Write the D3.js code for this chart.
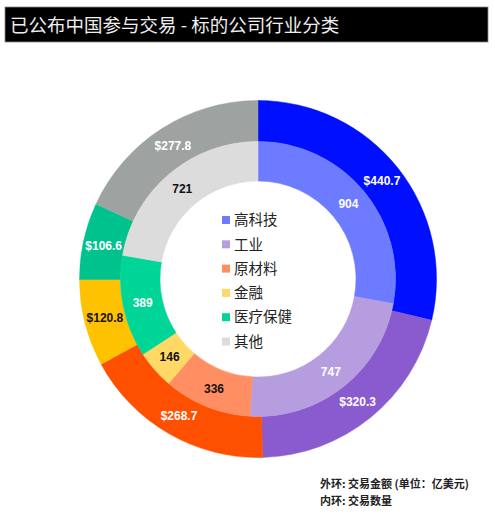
<!DOCTYPE html>
<html>
<head>
<meta charset="utf-8">
<script src="https://cdn.jsdelivr.net/npm/d3@7"></script>
<style>
  body { margin: 0; background: #fff; }
  svg { display: block; }
</style>
</head>
<body>
<div id="chart"></div>
<script>
// data
var categories = ['高科技', '工业', '原材料', '金融', '医疗保健', '其他'];
var outerValues = [440.7, 320.3, 268.7, 120.8, 106.6, 277.8];   // 交易金额 (亿美元)
var innerValues = [904, 747, 336, 146, 389, 721];                // 交易数量
var outerColors = ['#0010ff', '#8a5bcf', '#ff4f00', '#ffc200', '#00c28c', '#9ea3a2'];
var innerColors = ['#6c7bff', '#b59ddf', '#ff8f62', '#ffd866', '#00d598', '#dcdcdc'];
var outerLabelColors = ['#fff', '#fff', '#fff', '#111', '#fff', '#fff'];
var innerLabelColors = ['#fff', '#fff', '#111', '#111', '#fff', '#111'];
var notes = ['外环: 交易金额 (单位：亿美元)', '内环: 交易数量'];
var title = '已公布中国参与交易 - 标的公司行业分类';

var width = 495, height = 520;
var cx = 258, cy = 279;
var rIn = 98, rMid = 137.5, rOut = 178.5;

var svg = d3.select('#chart')
  .append('svg')
    .attr('width', width)
    .attr('height', height);

// title bar
svg.append('rect')
  .attr('x', 5).attr('y', 7)
  .attr('width', 483).attr('height', 35)
  .attr('fill', '#000')
  .attr('stroke', '#888').attr('stroke-width', 0.8);
svg.append('text')
  .attr('x', 10).attr('y', 32)
  .attr('fill', '#eee')
  .style('font-family', '"Noto Sans CJK SC", sans-serif')
  .style('font-size', '18.5px')
  .text(title);

var pie = d3.pie().sort(null).value(function(d) { return d; });

var g = svg.append('g')
  .attr('transform', 'translate(' + cx + ',' + cy + ')');

function drawRing(values, colors, labelColors, r0, r1, fmt) {
  var arc = d3.arc().innerRadius(r0).outerRadius(r1);
  var arcs = pie(values);
  var ring = g.append('g');
  ring.selectAll('path')
    .data(arcs)
    .enter().append('path')
      .attr('d', arc)
      .attr('fill', function(d, i) { return colors[i]; })
      .attr('stroke', function(d, i) { return colors[i]; })
      .attr('stroke-width', 0.5);
  ring.selectAll('text')
    .data(arcs)
    .enter().append('text')
      .attr('transform', function(d) { return 'translate(' + arc.centroid(d) + ')'; })
      .attr('text-anchor', 'middle')
      .attr('dy', '0.36em')
      .attr('fill', function(d, i) { return labelColors[i]; })
      .style('font-family', '"Liberation Sans", Arial, sans-serif')
      .style('font-weight', 'bold')
      .style('font-size', '12px')
      .text(function(d) { return fmt(d.data); });
}

drawRing(outerValues, outerColors, outerLabelColors, rMid, rOut, function(v) { return '$' + v.toFixed(1); });
drawRing(innerValues, innerColors, innerLabelColors, rIn, rMid, function(v) { return v; });

// legend in the hole
var legend = svg.append('g')
  .attr('transform', 'translate(222,220)');
var row = legend.selectAll('g')
  .data(categories)
  .enter().append('g')
    .attr('transform', function(d, i) { return 'translate(0,' + (i * 24.3) + ')'; });
row.append('rect')
  .attr('x', 0).attr('y', -4)
  .attr('width', 8).attr('height', 8)
  .attr('fill', function(d, i) { return innerColors[i]; });
row.append('text')
  .attr('x', 12).attr('y', 0)
  .attr('dy', '0.36em')
  .attr('fill', '#222')
  .style('font-family', '"Noto Sans CJK SC", sans-serif')
  .style('font-size', '14.5px')
  .text(function(d) { return d; });

// footnote
svg.selectAll('.note')
  .data(notes)
  .enter().append('text')
    .attr('class', 'note')
    .attr('x', 320)
    .attr('y', function(d, i) { return 488 + i * 16.5; })
    .attr('fill', '#222')
    .style('font-family', '"Noto Sans CJK SC", sans-serif')
    .style('font-weight', 'bold')
    .style('font-size', '11px')
    .text(function(d) { return d; });
</script>
</body>
</html>
